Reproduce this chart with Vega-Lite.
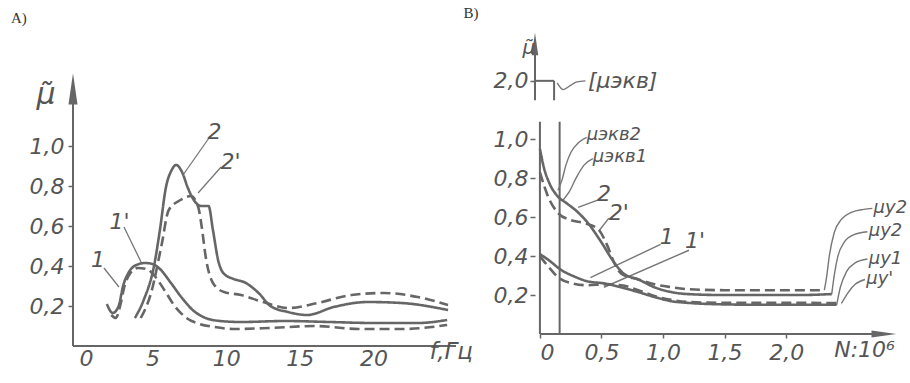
{
  "$schema": "https://vega.github.io/schema/vega-lite/v6.json",
  "background": "white",
  "padding": {"left": 10, "top": 6, "right": 0, "bottom": 0},
  "autosize": {"type": "pad"},
  "spacing": 79,
  "bounds": "flush",
  "config": {
    "view": {"stroke": null},
    "axis": {"grid": false, "domain": false, "labelFont": "DejaVu Sans", "labelFontStyle": "italic", "labelFontSize": 22, "labelColor": "#555", "tickColor": "#666", "tickWidth": 1.5, "title": null}
  },
  "datasets": {
    "curvesA": [
      {"s": "1", "x": 1.9, "y": 0.21}, {"s": "1", "x": 2.3, "y": 0.165}, {"s": "1", "x": 2.7, "y": 0.2}, {"s": "1", "x": 3.0, "y": 0.3}, {"s": "1", "x": 3.4, "y": 0.37}, {"s": "1", "x": 3.9, "y": 0.405}, {"s": "1", "x": 4.5, "y": 0.415}, {"s": "1", "x": 5.0, "y": 0.41}, {"s": "1", "x": 5.5, "y": 0.385}, {"s": "1", "x": 6.2, "y": 0.32}, {"s": "1", "x": 7.0, "y": 0.24}, {"s": "1", "x": 7.8, "y": 0.175}, {"s": "1", "x": 8.6, "y": 0.14}, {"s": "1", "x": 9.6, "y": 0.125}, {"s": "1", "x": 11, "y": 0.12}, {"s": "1", "x": 14, "y": 0.125}, {"s": "1", "x": 17, "y": 0.12}, {"s": "1", "x": 20, "y": 0.115}, {"s": "1", "x": 23, "y": 0.115}, {"s": "1", "x": 25, "y": 0.13},
      {"s": "1'", "x": 2.2, "y": 0.155}, {"s": "1'", "x": 2.5, "y": 0.14}, {"s": "1'", "x": 2.8, "y": 0.2}, {"s": "1'", "x": 3.1, "y": 0.3}, {"s": "1'", "x": 3.5, "y": 0.365}, {"s": "1'", "x": 4.0, "y": 0.39}, {"s": "1'", "x": 4.6, "y": 0.385}, {"s": "1'", "x": 5.2, "y": 0.345}, {"s": "1'", "x": 5.8, "y": 0.28}, {"s": "1'", "x": 6.5, "y": 0.2}, {"s": "1'", "x": 7.3, "y": 0.14}, {"s": "1'", "x": 8.2, "y": 0.11}, {"s": "1'", "x": 9.2, "y": 0.095}, {"s": "1'", "x": 10.5, "y": 0.085}, {"s": "1'", "x": 13, "y": 0.09}, {"s": "1'", "x": 16, "y": 0.1}, {"s": "1'", "x": 19, "y": 0.085}, {"s": "1'", "x": 22, "y": 0.085}, {"s": "1'", "x": 25, "y": 0.105},
      {"s": "2", "x": 3.8, "y": 0.14}, {"s": "2", "x": 4.4, "y": 0.23}, {"s": "2", "x": 5.1, "y": 0.4}, {"s": "2", "x": 5.5, "y": 0.58}, {"s": "2", "x": 5.9, "y": 0.79}, {"s": "2", "x": 6.3, "y": 0.88}, {"s": "2", "x": 6.6, "y": 0.905}, {"s": "2", "x": 7.0, "y": 0.87}, {"s": "2", "x": 7.4, "y": 0.79}, {"s": "2", "x": 7.8, "y": 0.73}, {"s": "2", "x": 8.3, "y": 0.7}, {"s": "2", "x": 8.8, "y": 0.7}, {"s": "2", "x": 9.1, "y": 0.58}, {"s": "2", "x": 9.45, "y": 0.43}, {"s": "2", "x": 9.8, "y": 0.365}, {"s": "2", "x": 10.5, "y": 0.335}, {"s": "2", "x": 11.2, "y": 0.32}, {"s": "2", "x": 12.2, "y": 0.265}, {"s": "2", "x": 13.0, "y": 0.2}, {"s": "2", "x": 14.2, "y": 0.17}, {"s": "2", "x": 15.5, "y": 0.155}, {"s": "2", "x": 17.3, "y": 0.195}, {"s": "2", "x": 19.6, "y": 0.22}, {"s": "2", "x": 21.9, "y": 0.215}, {"s": "2", "x": 25.06, "y": 0.18},
      {"s": "2'", "x": 4.2, "y": 0.14}, {"s": "2'", "x": 4.9, "y": 0.265}, {"s": "2'", "x": 5.6, "y": 0.5}, {"s": "2'", "x": 6.1, "y": 0.68}, {"s": "2'", "x": 6.9, "y": 0.73}, {"s": "2'", "x": 7.6, "y": 0.75}, {"s": "2'", "x": 8.1, "y": 0.695}, {"s": "2'", "x": 8.35, "y": 0.59}, {"s": "2'", "x": 8.6, "y": 0.45}, {"s": "2'", "x": 9.1, "y": 0.315}, {"s": "2'", "x": 9.85, "y": 0.27}, {"s": "2'", "x": 11.0, "y": 0.255}, {"s": "2'", "x": 12.5, "y": 0.22}, {"s": "2'", "x": 14.2, "y": 0.19}, {"s": "2'", "x": 16.2, "y": 0.215}, {"s": "2'", "x": 18.5, "y": 0.255}, {"s": "2'", "x": 20.7, "y": 0.265}, {"s": "2'", "x": 23.0, "y": 0.245}, {"s": "2'", "x": 25.06, "y": 0.205}
    ],
    "leadersA": [
      {"s": "a", "x": 1.7, "y": 0.39}, {"s": "a", "x": 2.72, "y": 0.295},
      {"s": "b", "x": 3.06, "y": 0.595}, {"s": "b", "x": 4.22, "y": 0.42},
      {"s": "c", "x": 8.83, "y": 1.04}, {"s": "c", "x": 7.07, "y": 0.855},
      {"s": "d", "x": 9.65, "y": 0.895}, {"s": "d", "x": 8.09, "y": 0.765}
    ],
    "rulesA": [
      {"x": -0.4, "xe": -0.4, "y": 0, "ye": 1.24},
      {"x": -0.4, "xe": 25.6, "y": 0, "ye": 0}
    ],
    "arrowUpA": [{"x": -0.4, "y": 1.26}],
    "labelsA": [
      {"t": "1", "x": 1.3, "y": 0.43}, {"t": "1'", "x": 2.75, "y": 0.62}, {"t": "2", "x": 9.2, "y": 1.07}, {"t": "2'", "x": 10.3, "y": 0.92}
    ],
    "muA": [{"t": "μ̃", "x": -2.23, "y": 1.255}],
    "xtitleA": [{"t": "f,Гц", "x": 23.8, "y": -0.03}],
    "panelA": [{"t": "A)", "x": -4.61, "y": 1.675}],
    "curvesB": [
      {"s": "2", "x": 0, "y": 0.95}, {"s": "2", "x": 0.03, "y": 0.86}, {"s": "2", "x": 0.08, "y": 0.77}, {"s": "2", "x": 0.14, "y": 0.71}, {"s": "2", "x": 0.22, "y": 0.67}, {"s": "2", "x": 0.3, "y": 0.63}, {"s": "2", "x": 0.39, "y": 0.57}, {"s": "2", "x": 0.5, "y": 0.47}, {"s": "2", "x": 0.6, "y": 0.37}, {"s": "2", "x": 0.68, "y": 0.31}, {"s": "2", "x": 0.8, "y": 0.28}, {"s": "2", "x": 0.93, "y": 0.24}, {"s": "2", "x": 1.07, "y": 0.215}, {"s": "2", "x": 1.2, "y": 0.205}, {"s": "2", "x": 1.5, "y": 0.2}, {"s": "2", "x": 1.8, "y": 0.2}, {"s": "2", "x": 2.1, "y": 0.2}, {"s": "2", "x": 2.37, "y": 0.205},
      {"s": "2'", "x": 0, "y": 0.83}, {"s": "2'", "x": 0.07, "y": 0.7}, {"s": "2'", "x": 0.15, "y": 0.62}, {"s": "2'", "x": 0.25, "y": 0.585}, {"s": "2'", "x": 0.36, "y": 0.57}, {"s": "2'", "x": 0.47, "y": 0.54}, {"s": "2'", "x": 0.55, "y": 0.45}, {"s": "2'", "x": 0.6, "y": 0.37}, {"s": "2'", "x": 0.66, "y": 0.31}, {"s": "2'", "x": 0.8, "y": 0.28}, {"s": "2'", "x": 0.93, "y": 0.255}, {"s": "2'", "x": 1.07, "y": 0.24}, {"s": "2'", "x": 1.2, "y": 0.23}, {"s": "2'", "x": 1.5, "y": 0.225}, {"s": "2'", "x": 1.8, "y": 0.225}, {"s": "2'", "x": 2.1, "y": 0.225}, {"s": "2'", "x": 2.31, "y": 0.225},
      {"s": "1", "x": 0, "y": 0.41}, {"s": "1", "x": 0.07, "y": 0.38}, {"s": "1", "x": 0.17, "y": 0.33}, {"s": "1", "x": 0.28, "y": 0.295}, {"s": "1", "x": 0.39, "y": 0.27}, {"s": "1", "x": 0.52, "y": 0.26}, {"s": "1", "x": 0.66, "y": 0.24}, {"s": "1", "x": 0.8, "y": 0.215}, {"s": "1", "x": 0.93, "y": 0.19}, {"s": "1", "x": 1.07, "y": 0.168}, {"s": "1", "x": 1.2, "y": 0.16}, {"s": "1", "x": 1.5, "y": 0.152}, {"s": "1", "x": 1.8, "y": 0.15}, {"s": "1", "x": 2.1, "y": 0.15}, {"s": "1", "x": 2.41, "y": 0.15},
      {"s": "1'", "x": 0, "y": 0.4}, {"s": "1'", "x": 0.07, "y": 0.345}, {"s": "1'", "x": 0.15, "y": 0.29}, {"s": "1'", "x": 0.25, "y": 0.262}, {"s": "1'", "x": 0.39, "y": 0.25}, {"s": "1'", "x": 0.52, "y": 0.255}, {"s": "1'", "x": 0.66, "y": 0.25}, {"s": "1'", "x": 0.8, "y": 0.225}, {"s": "1'", "x": 0.93, "y": 0.195}, {"s": "1'", "x": 1.07, "y": 0.175}, {"s": "1'", "x": 1.2, "y": 0.165}, {"s": "1'", "x": 1.5, "y": 0.16}, {"s": "1'", "x": 1.8, "y": 0.16}, {"s": "1'", "x": 2.1, "y": 0.16}, {"s": "1'", "x": 2.45, "y": 0.158}
    ],
    "leadersB": [
      {"s": "e2", "x": 0.38, "y": 1.01}, {"s": "e2", "x": 0.317, "y": 0.985}, {"s": "e2", "x": 0.252, "y": 0.933}, {"s": "e2", "x": 0.211, "y": 0.867}, {"s": "e2", "x": 0.179, "y": 0.79}, {"s": "e2", "x": 0.146, "y": 0.738},
      {"s": "e1", "x": 0.43, "y": 0.9}, {"s": "e1", "x": 0.358, "y": 0.867}, {"s": "e1", "x": 0.293, "y": 0.8}, {"s": "e1", "x": 0.236, "y": 0.728}, {"s": "e1", "x": 0.187, "y": 0.687},
      {"s": "l2", "x": 0.48, "y": 0.69}, {"s": "l2", "x": 0.31, "y": 0.65},
      {"s": "l2p", "x": 0.56, "y": 0.595}, {"s": "l2p", "x": 0.48, "y": 0.53},
      {"s": "l1", "x": 0.98, "y": 0.46}, {"s": "l1", "x": 0.41, "y": 0.29},
      {"s": "l1p", "x": 1.21, "y": 0.43}, {"s": "l1p", "x": 0.52, "y": 0.24},
      {"s": "u1", "x": 2.31, "y": 0.225}, {"s": "u1", "x": 2.33, "y": 0.3}, {"s": "u1", "x": 2.35, "y": 0.4}, {"s": "u1", "x": 2.39, "y": 0.52}, {"s": "u1", "x": 2.45, "y": 0.59}, {"s": "u1", "x": 2.53, "y": 0.625}, {"s": "u1", "x": 2.63, "y": 0.64}, {"s": "u1", "x": 2.7, "y": 0.645},
      {"s": "u2", "x": 2.37, "y": 0.205}, {"s": "u2", "x": 2.39, "y": 0.3}, {"s": "u2", "x": 2.42, "y": 0.4}, {"s": "u2", "x": 2.47, "y": 0.47}, {"s": "u2", "x": 2.55, "y": 0.51}, {"s": "u2", "x": 2.66, "y": 0.525},
      {"s": "u3", "x": 2.41, "y": 0.15}, {"s": "u3", "x": 2.44, "y": 0.24}, {"s": "u3", "x": 2.49, "y": 0.32}, {"s": "u3", "x": 2.56, "y": 0.365}, {"s": "u3", "x": 2.66, "y": 0.385},
      {"s": "u4", "x": 2.45, "y": 0.158}, {"s": "u4", "x": 2.5, "y": 0.21}, {"s": "u4", "x": 2.56, "y": 0.255}, {"s": "u4", "x": 2.64, "y": 0.28},
      {"s": "w", "x": 0.14, "y": 1.29}, {"s": "w", "x": 0.19, "y": 1.255}, {"s": "w", "x": 0.245, "y": 1.275}, {"s": "w", "x": 0.3, "y": 1.295}, {"s": "w", "x": 0.37, "y": 1.3}
    ],
    "rulesB": [
      {"x": 0, "xe": 0, "y": 0, "ye": 1.09},
      {"x": -0.04, "xe": -0.04, "y": 1.2, "ye": 1.46},
      {"x": 0.16, "xe": 0.16, "y": 0, "ye": 1.09},
      {"x": 0, "xe": 2.75, "y": 0, "ye": 0},
      {"x": -0.04, "xe": 0.115, "y": 1.3, "ye": 1.3},
      {"x": 0.115, "xe": 0.115, "y": 1.2, "ye": 1.3}
    ],
    "arrowUpB": [{"x": -0.04, "y": 1.47}],
    "arrowRightB": [{"x": 2.76, "y": 0}],
    "labelsB": [
      {"t": "2", "x": 0.52, "y": 0.72}, {"t": "2'", "x": 0.64, "y": 0.62}, {"t": "1", "x": 1.03, "y": 0.5}, {"t": "1'", "x": 1.26, "y": 0.48}
    ],
    "smallB": [
      {"t": "μэкв2", "x": 0.38, "y": 1.02}, {"t": "μэкв1", "x": 0.43, "y": 0.91},
      {"t": "μу2", "x": 2.71, "y": 0.645}, {"t": "μу2", "x": 2.67, "y": 0.53}, {"t": "μу1", "x": 2.67, "y": 0.385}, {"t": "μу'", "x": 2.65, "y": 0.28}
    ],
    "bracketB": [{"t": "[μэкв]", "x": 0.39, "y": 1.3}],
    "muB": [{"t": "μ̃", "x": -0.09, "y": 1.47}],
    "xtitleB": [{"t": "N:10⁶", "x": 2.39, "y": -0.082}],
    "panelB": [{"t": "B)", "x": -0.62, "y": 1.682}]
  },
  "hconcat": [
    {
      "width": 383,
      "height": 308,
      "encoding": {
        "x": {"field": "x", "type": "quantitative", "scale": {"domain": [-0.4, 25.6], "nice": false, "zero": false},
              "axis": {"values": [0, 5, 10, 15, 20], "tickSize": 0, "labelPadding": 2, "labelFlush": 7}},
        "y": {"field": "y", "type": "quantitative", "scale": {"domain": [0, 1.54], "nice": false, "zero": false},
              "axis": {"values": [0.2, 0.4, 0.6, 0.8, 1.0], "tickSize": 5, "labelPadding": 4, "labelExpr": "replace(format(datum.value, '.1f'), '.', ',')"}}
      },
      "layer": [
        {"data": {"name": "rulesA"}, "mark": {"type": "rule", "color": "#666", "strokeWidth": 2}, "encoding": {"x2": {"field": "xe"}, "y2": {"field": "ye"}}},
        {"data": {"name": "arrowUpA"}, "mark": {"type": "point", "shape": "wedge", "filled": true, "color": "#666", "size": 1300, "opacity": 1}},
        {"data": {"name": "leadersA"}, "mark": {"type": "line", "color": "#777", "strokeWidth": 1.3}, "encoding": {"detail": {"field": "s"}, "order": {"field": "x", "type": "quantitative"}}},
        {"data": {"name": "curvesA"}, "mark": {"type": "line", "color": "#666", "strokeWidth": 2.6, "interpolate": "monotone"},
         "encoding": {"detail": {"field": "s"}, "strokeDash": {"field": "s", "type": "nominal", "scale": {"domain": ["1", "1'", "2", "2'"], "range": [[1, 0], [10, 5], [1, 0], [10, 5]]}, "legend": null}}},
        {"data": {"name": "labelsA"}, "mark": {"type": "text", "font": "DejaVu Sans", "fontStyle": "italic", "fontSize": 22, "color": "#555"}, "encoding": {"text": {"field": "t"}}},
        {"data": {"name": "muA"}, "mark": {"type": "text", "font": "DejaVu Sans", "fontStyle": "italic", "fontSize": 30, "color": "#555"}, "encoding": {"text": {"field": "t"}}},
        {"data": {"name": "xtitleA"}, "mark": {"type": "text", "font": "DejaVu Sans", "fontStyle": "italic", "fontSize": 23, "color": "#555", "align": "left"}, "encoding": {"text": {"field": "t"}}},
        {"data": {"name": "panelA"}, "mark": {"type": "text", "font": "Liberation Serif", "fontSize": 15, "color": "#333", "align": "left", "baseline": "top"}, "encoding": {"text": {"field": "t"}}}
      ]
    },
    {
      "width": 362,
      "height": 296,
      "encoding": {
        "x": {"field": "x", "type": "quantitative", "scale": {"domain": [-0.04, 2.9], "nice": false, "zero": false},
              "axis": {"values": [0, 0.5, 1, 1.5, 2], "tickSize": 4, "labelPadding": 4, "labelFlush": 6, "labelExpr": "datum.value == 0 ? '0' : replace(format(datum.value, '.1f'), '.', ',')"}},
        "y": {"field": "y", "type": "quantitative", "scale": {"domain": [0, 1.52], "nice": false, "zero": false},
              "axis": {"values": [0.2, 0.4, 0.6, 0.8, 1.0, 1.3], "tickSize": 5, "labelPadding": 2, "labelExpr": "datum.value > 1.2 ? '2,0' : replace(format(datum.value, '.1f'), '.', ',')"}}
      },
      "layer": [
        {"data": {"name": "rulesB"}, "mark": {"type": "rule", "color": "#666", "strokeWidth": 2}, "encoding": {"x2": {"field": "xe"}, "y2": {"field": "ye"}}},
        {"data": {"name": "arrowUpB"}, "mark": {"type": "point", "shape": "wedge", "filled": true, "color": "#666", "size": 670, "opacity": 1}},
        {"data": {"name": "arrowRightB"}, "mark": {"type": "point", "shape": "wedge", "angle": 90, "filled": true, "color": "#666", "size": 820, "opacity": 1}},
        {"data": {"name": "leadersB"}, "mark": {"type": "line", "color": "#777", "strokeWidth": 1.4, "interpolate": "monotone"}, "encoding": {"detail": {"field": "s"}, "order": {"field": "x", "type": "quantitative"}}},
        {"data": {"name": "curvesB"}, "mark": {"type": "line", "color": "#666", "strokeWidth": 2.6, "interpolate": "monotone"},
         "encoding": {"detail": {"field": "s"}, "strokeDash": {"field": "s", "type": "nominal", "scale": {"domain": ["1", "1'", "2", "2'"], "range": [[1, 0], [10, 5], [1, 0], [10, 5]]}, "legend": null}}},
        {"data": {"name": "labelsB"}, "mark": {"type": "text", "font": "DejaVu Sans", "fontStyle": "italic", "fontSize": 22, "color": "#555"}, "encoding": {"text": {"field": "t"}}},
        {"data": {"name": "smallB"}, "mark": {"type": "text", "font": "DejaVu Sans", "fontStyle": "italic", "fontSize": 18, "color": "#555", "align": "left"}, "encoding": {"text": {"field": "t"}}},
        {"data": {"name": "bracketB"}, "mark": {"type": "text", "font": "DejaVu Sans", "fontStyle": "italic", "fontSize": 22, "color": "#555", "align": "left"}, "encoding": {"text": {"field": "t"}}},
        {"data": {"name": "muB"}, "mark": {"type": "text", "font": "DejaVu Sans", "fontStyle": "italic", "fontSize": 20, "color": "#555"}, "encoding": {"text": {"field": "t"}}},
        {"data": {"name": "xtitleB"}, "mark": {"type": "text", "font": "DejaVu Sans", "fontStyle": "italic", "fontSize": 22, "color": "#555", "align": "left"}, "encoding": {"text": {"field": "t"}}},
        {"data": {"name": "panelB"}, "mark": {"type": "text", "font": "Liberation Serif", "fontSize": 15, "color": "#333", "align": "left", "baseline": "top"}, "encoding": {"text": {"field": "t"}}}
      ]
    }
  ]
}
